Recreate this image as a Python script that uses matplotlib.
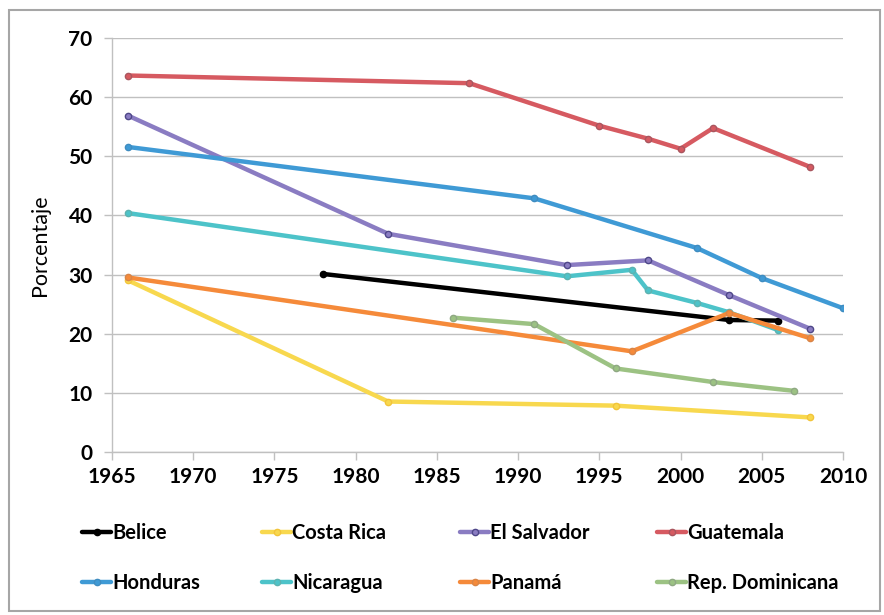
import matplotlib.pyplot as plt
from matplotlib.patches import Rectangle

# =======================
# DATA
# =======================
belice_years = [1978, 2003, 2006]
belice_vals = [30.1, 22.3, 22.2]

costa_rica_years = [1966, 1982, 1996, 2008]
costa_rica_vals = [29.0, 8.5, 7.8, 5.8]

el_salvador_years = [1966, 1982, 1993, 1998, 2003, 2008]
el_salvador_vals = [56.9, 36.9, 31.6, 32.4, 26.5, 20.8]

guatemala_years = [1966, 1987, 1995, 1998, 2000, 2002, 2008]
guatemala_vals = [63.7, 62.4, 55.2, 53.0, 51.3, 54.8, 48.2]

honduras_years = [1966, 1991, 2001, 2005, 2010]
honduras_vals = [51.6, 42.9, 34.5, 29.4, 24.3]

nicaragua_years = [1966, 1993, 1997, 1998, 2001, 2003, 2006]
nicaragua_vals = [40.4, 29.7, 30.8, 27.3, 25.2, 23.6, 20.6]

panama_years = [1966, 1997, 2003, 2008]
panama_vals = [29.5, 17.0, 23.5, 19.2]

rep_dom_years = [1986, 1991, 1996, 2002, 2007]
rep_dom_vals = [22.7, 21.6, 14.1, 11.8, 10.3]

series = [
    ("Belice", belice_years, belice_vals, "#000000", "#000000"),
    ("Costa Rica", costa_rica_years, costa_rica_vals, "#F8D84E", "#F2C43A"),
    ("El Salvador", el_salvador_years, el_salvador_vals, "#8A7CC2", "#4E4788"),
    ("Guatemala", guatemala_years, guatemala_vals, "#D65A61", "#A9565F"),
    ("Honduras", honduras_years, honduras_vals, "#3F9AD5", "#3F8CC0"),
    ("Nicaragua", nicaragua_years, nicaragua_vals, "#4DC3C9", "#5EB2B0"),
    ("Panamá", panama_years, panama_vals, "#F58A3A", "#D88548"),
    ("Rep. Dominicana", rep_dom_years, rep_dom_vals, "#9CC283", "#8FA883"),
]

FONT = "Lato"
GRID = "#C0C0C0"

# =======================
# FIGURE
# =======================
fig = plt.figure(figsize=(8.84, 6.15), dpi=100)
ax = fig.add_axes([0.1267, 0.2655, 0.8269, 0.6722])

handles = {}
for name, xs, ys, col, edge in series:
    ln, = ax.plot(xs, ys, color=col, lw=3.2, marker="o", ms=4.5,
                  markerfacecolor=col, markeredgecolor=edge, mew=1.0,
                  solid_joinstyle="round", solid_capstyle="round",
                  label=name, zorder=3)
    handles[name] = ln

ax.set_xlim(1965, 2010)
ax.set_ylim(0, 70)
ax.set_xticks(range(1965, 2011, 5))
ax.set_yticks(range(0, 71, 10))
ax.yaxis.grid(True, color=GRID, lw=1.0)
ax.set_axisbelow(True)

for s in ["top", "right"]:
    ax.spines[s].set_visible(False)
for s in ["left", "bottom"]:
    ax.spines[s].set_color(GRID)
    ax.spines[s].set_linewidth(1.0)

ax.tick_params(axis="both", colors=GRID, length=6, width=1.0,
               labelcolor="#000000", labelsize=15)
ax.tick_params(axis="y", pad=8)
ax.tick_params(axis="x", pad=5)
for lab in ax.get_xticklabels() + ax.get_yticklabels():
    lab.set_fontfamily(FONT)
    lab.set_fontweight("bold")

ax.set_ylabel("Porcentaje", fontsize=15.5, fontfamily=FONT, labelpad=13)

# legend: one small legend per column, rows like Excel
columns = [("Belice", "Honduras"), ("Costa Rica", "Nicaragua"),
           ("El Salvador", "Panamá"), ("Guatemala", "Rep. Dominicana")]
col_x = [82, 262, 460, 657]
for names, x in zip(columns, col_x):
    leg = fig.legend([handles[n] for n in names], names,
                     loc="upper left", bbox_to_anchor=(x / 884, 1 - 523 / 615),
                     frameon=False, borderpad=0, borderaxespad=0,
                     handlelength=1.45, handletextpad=0.05, labelspacing=1.5,
                     prop={"family": FONT, "weight": "bold", "size": 14.5})

# outer chart frame
fig.patches.append(Rectangle((9 / 884, 1 - 611 / 615), 871 / 884, 601 / 615,
                             transform=fig.transFigure, fill=False,
                             edgecolor="#A6A6A6", lw=1.5))

fig.savefig("out.png", dpi=100)
